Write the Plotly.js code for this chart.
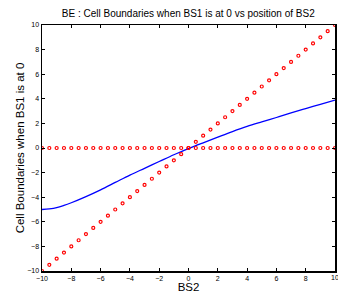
<!DOCTYPE html>
<html>
<head>
<script src="https://cdn.plot.ly/plotly-3.0.1.min.js"></script>
<style>html,body{margin:0;padding:0;background:#fff;}#plot{width:338px;height:293px;}</style>
</head>
<body>
<div id="plot"></div>
<script>
// Positions of BS2 (red markers)
var bs2Pos = [-10,-9.5,-9,-8.5,-8,-7.5,-7,-6.5,-6,-5.5,-5,-4.5,-4,-3.5,-3,-2.5,-2,-1.5,-1,-0.5,0,0.5,1,1.5,2,2.5,3,3.5,4,4.5,5,5.5,6,6.5,7,7.5,8,8.5,9,9.5,10];
var bs2Y = bs2Pos.slice();
var bs1Y = [0,0,0,0,0,0,0,0,0,0,0,0,0,0,0,0,0,0,0,0,0,0,0,0,0,0,0,0,0,0,0,0,0,0,0,0,0,0,0,0,0];
// Cell boundary (blue line)
var boundX = [-10,-9.5,-9,-8.5,-8,-7,-6,-5,-4,-3,-2,-1,0,1,2,3,4,5,6,7,8,9,10];
var boundY = [-5.0,-4.95,-4.85,-4.67,-4.45,-3.95,-3.4,-2.8,-2.2,-1.65,-1.1,-0.55,-0.05,0.42,0.88,1.33,1.75,2.12,2.48,2.85,3.2,3.55,3.9];
var tickVals = [-10,-8,-6,-4,-2,0,2,4,6,8,10];
var lastTick = '10';

var FONT = 'Liberation Sans, Arial, sans-serif';
var marker = {symbol:'circle-open', size:3, color:'#ff0000', line:{width:1.2, color:'#ff0000'}};
var traces = [
  {x: boundX, y: boundY, mode:'lines', line:{color:'#0000ff', width:1.3, shape:'spline'}, hoverinfo:'none'},
  {x: bs2Pos, y: bs2Y, mode:'markers', marker: marker},
  {x: bs2Pos, y: bs1Y, mode:'markers', marker: marker}
];
var axisBase = {
  range:[-10,10], tickvals: tickVals, ticks:'inside', ticklen:3, tickwidth:1, tickcolor:'#000',
  showline:true, linecolor:'#000', linewidth:1.5, mirror:'ticks', showgrid:false, zeroline:false,
  tickfont:{family:FONT, size:7, color:'#000'}
};
var layout = {
  width:338, height:293, showlegend:false,
  paper_bgcolor:'#fff', plot_bgcolor:'#fff',
  margin:{l:42, r:3, t:25, b:22},
  title:{text:'BE : Cell Boundaries when BS1 is at 0 vs position of BS2', x:0.557, xanchor:'center', y:0.955, yanchor:'middle',
         font:{family:FONT, size:10, color:'#000'}},
  xaxis: Object.assign({}, axisBase, {title:{text:'BS2', standoff:0, font:{family:FONT, size:11.5, color:'#000'}}}),
  yaxis: Object.assign({}, axisBase, {title:{text:'Cell Boundaries when BS1 is at 0', standoff:0, font:{family:FONT, size:11.5, color:'#000'}}}),
  annotations:[{text:lastTick, x:10, xref:'x', y:0, yref:'paper', yanchor:'top', yshift:-1, xanchor:'center', showarrow:false,
                font:{family:FONT, size:7, color:'#000'}}]
};
Plotly.newPlot('plot', traces, layout, {staticPlot:true, displayModeBar:false});
</script>
</body>
</html>
